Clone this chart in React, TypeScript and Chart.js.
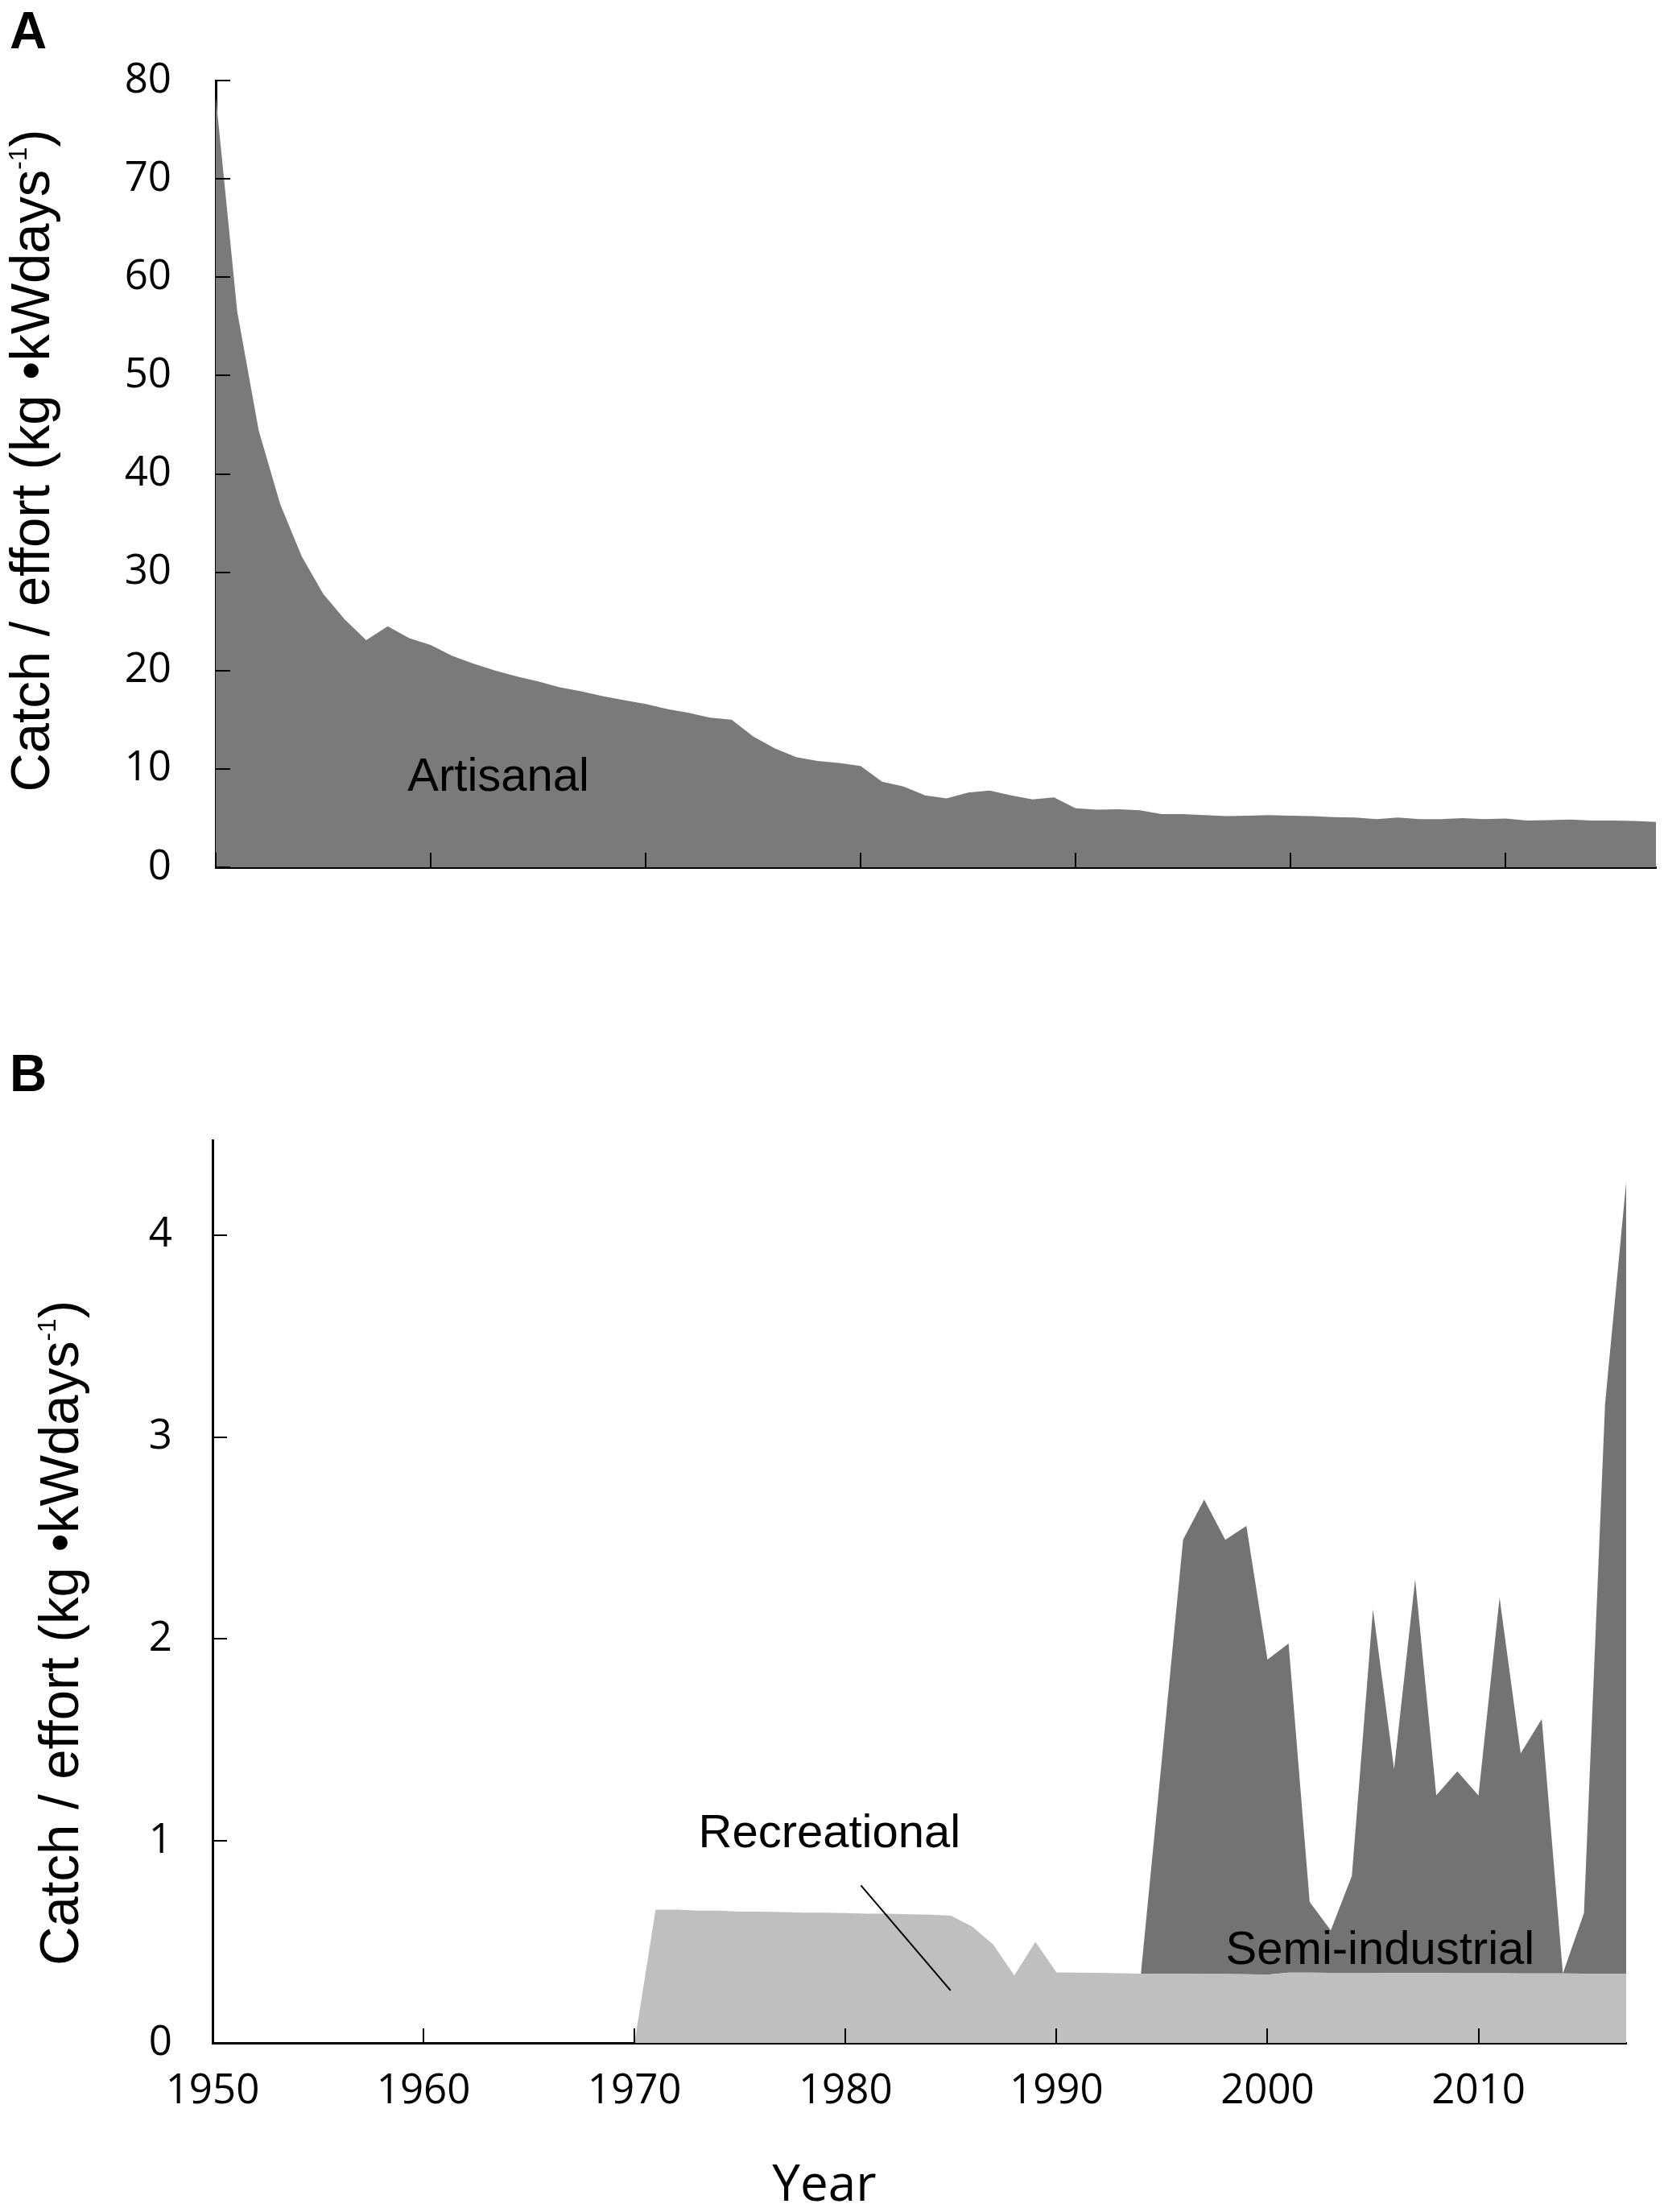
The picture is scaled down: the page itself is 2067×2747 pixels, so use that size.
import React, { useEffect, useRef } from 'react';
import { Chart, registerables } from 'chart.js';

Chart.register(...registerables);

// Years on both horizontal axes
const years = Array.from({ length: 68 }, (_, i) => 1950 + i);
const yearTicks = [1950, 1960, 1970, 1980, 1990, 2000, 2010];

// Panel A: artisanal catch / effort, 1950-2017
const artisanal = [
	78.4, 56.5, 44.4, 36.9, 31.6, 27.8, 25.2, 23.1, 24.5, 23.3,
	22.6, 21.5, 20.7, 20.0, 19.4, 18.9, 18.3, 17.9, 17.4, 17.0,
	16.6, 16.1, 15.7, 15.2, 15.0, 13.3, 12.1, 11.2, 10.8, 10.6,
	10.3, 8.7, 8.2, 7.3, 7.0, 7.6, 7.8, 7.3, 6.9, 7.1,
	6.0, 5.85, 5.9, 5.8, 5.4, 5.4, 5.3, 5.2, 5.25, 5.3,
	5.25, 5.2, 5.1, 5.05, 4.9, 5.05, 4.9, 4.9, 5.0, 4.9,
	4.95, 4.75, 4.8, 4.85, 4.75, 4.75, 4.7, 4.6
];
const ticksA = [0, 10, 20, 30, 40, 50, 60, 70, 80];

// Panel B: recreational 1970-2017, semi-industrial 1994-2017 (stacked on top)
const recreationalYears = years.slice(20);
const recreational = [
	0,
	0.66, 0.66, 0.655, 0.655, 0.65, 0.65, 0.648, 0.645, 0.645, 0.643, 0.64, 0.64, 0.637, 0.635, 0.63,
	0.576, 0.487, 0.334, 0.5, 0.349,
	0.348, 0.347, 0.345, 0.343,
	0.342, 0.342, 0.341, 0.341, 0.34, 0.338,
	0.348, 0.348, 0.347, 0.347, 0.347, 0.346, 0.346, 0.346, 0.345, 0.345, 0.345, 0.344, 0.344, 0.344,
	0.343, 0.343, 0.343
];
const semiYears = years.slice(44);
const semiIndustrial = [
	0, 1.07, 2.15, 2.35, 2.15, 2.22, 1.56, 1.63, 0.35, 0.21,
	0.48, 1.8, 1.01, 1.95, 0.88, 1.0, 0.88, 1.86, 1.09, 1.26,
	0, 0.3, 2.82, 3.92
];
const ticksB = [0, 1, 2, 3, 4];

const ARTISANAL_FILL = '#7a7a7b';
const SEMI_FILL = '#737373';
const RECREATIONAL_FILL = '#bfbfbf';

const LABEL_FONT = '58px "Liberation Sans", Arial, sans-serif';
const TICK_FONT = { family: '"Open Sans", "Noto Sans", sans-serif', size: 51 };
const TICK_LEN = 18;

// ticks in this figure point into the plot area
const inwardTicks = {
	id: 'inwardTicks',
	afterDraw(chart: any) {
		const { ctx, chartArea, scales } = chart;
		ctx.save();
		ctx.strokeStyle = '#000';
		ctx.lineWidth = 2;
		ctx.beginPath();
		scales.x.ticks.forEach((t: any) => {
			const px = Math.round(scales.x.getPixelForValue(t.value));
			ctx.moveTo(px, chartArea.bottom);
			ctx.lineTo(px, chartArea.bottom - TICK_LEN);
		});
		scales.y.ticks.forEach((t: any) => {
			const py = Math.round(scales.y.getPixelForValue(t.value));
			ctx.moveTo(chartArea.left, py);
			ctx.lineTo(chartArea.left + TICK_LEN, py);
		});
		ctx.stroke();
		ctx.restore();
	}
};

function drawYTitle(ctx: CanvasRenderingContext2D, baseX: number, centerY: number, length: number) {
	const main = 'Catch / effort (kg \u2022kWdays';
	const sup = '-1';
	const close = ')';
	const big = '68px "Liberation Sans", Arial, sans-serif';
	const small = '32px "Liberation Sans", Arial, sans-serif';
	ctx.font = big;
	const w1 = ctx.measureText(main).width;
	const w3 = ctx.measureText(close).width;
	ctx.font = small;
	const w2 = ctx.measureText(sup).width;
	const total = w1 + w2 + w3;
	ctx.save();
	ctx.translate(baseX, centerY);
	ctx.rotate(-Math.PI / 2);
	ctx.scale(length / total, 1);
	ctx.textAlign = 'left';
	ctx.textBaseline = 'alphabetic';
	let x = -total / 2;
	ctx.font = big;
	ctx.fillText(main, x, 0);
	x += w1;
	ctx.font = small;
	ctx.fillText(sup, x, -28);
	x += w2;
	ctx.font = big;
	ctx.fillText(close, x, 0);
	ctx.restore();
}

// labels placed in data space, plus panel letter, axis titles
const panelText = {
	id: 'panelText',
	afterDraw(chart: any, _args: any, opts: any) {
		const { ctx, scales } = chart;
		ctx.save();
		ctx.fillStyle = '#000';
		ctx.textBaseline = 'alphabetic';
		(opts.notes || []).forEach((n: any) => {
			ctx.font = LABEL_FONT;
			ctx.textAlign = 'center';
			ctx.fillText(n.text, scales.x.getPixelForValue(n.x), scales.y.getPixelForValue(n.y));
		});
		(opts.fixed || []).forEach((n: any) => {
			ctx.font = n.font;
			ctx.textAlign = n.align || 'left';
			ctx.fillText(n.text, n.px, n.py);
		});
		if (opts.leader) {
			const [a, b] = opts.leader;
			ctx.strokeStyle = '#000';
			ctx.lineWidth = 2;
			ctx.beginPath();
			ctx.moveTo(scales.x.getPixelForValue(a.x), scales.y.getPixelForValue(a.y));
			ctx.lineTo(scales.x.getPixelForValue(b.x), scales.y.getPixelForValue(b.y));
			ctx.stroke();
		}
		if (opts.yTitle) {
			drawYTitle(ctx, opts.yTitle.x, opts.yTitle.y, opts.yTitle.length);
		}
		ctx.restore();
	}
};

const axisBorder = { display: true, color: '#000', width: 3 };
const noGrid = { display: false, drawTicks: false };

function setTicks(values: number[]) {
	return (scale: any) => {
		scale.ticks = values.map((v) => ({ value: v }));
	};
}

function buildArtisanal(canvas: HTMLCanvasElement) {
	return new Chart(canvas, {
		type: 'line',
		data: {
			datasets: [
				{
					label: 'Artisanal',
					data: years.map((x, i) => ({ x, y: artisanal[i] })),
					backgroundColor: ARTISANAL_FILL,
					borderWidth: 0,
					pointRadius: 0,
					tension: 0,
					fill: 'origin'
				}
			]
		},
		options: {
			responsive: false,
			animation: false,
			devicePixelRatio: 1,
			layout: { padding: { left: 0, right: 10, top: 100, bottom: 0 } },
			scales: {
				x: {
					type: 'linear',
					min: 1950,
					max: 2017,
					z: 1,
					afterBuildTicks: setTicks(yearTicks),
					afterFit: (s: any) => {
						s.height = 87;
					},
					ticks: { display: false },
					grid: noGrid,
					border: axisBorder
				},
				y: {
					type: 'linear',
					min: 0,
					max: 80,
					z: 1,
					afterBuildTicks: setTicks(ticksA),
					afterFit: (s: any) => {
						s.width = 268;
					},
					ticks: { padding: 55, color: '#000', font: TICK_FONT },
					grid: noGrid,
					border: axisBorder
				}
			},
			plugins: {
				legend: { display: false },
				tooltip: { enabled: false },
				panelText: {
					notes: [{ text: 'Artisanal', x: 1963.15, y: 7.8 }],
					fixed: [{ text: 'A', px: 12, py: 60, font: 'bold 64px "Liberation Sans", Arial, sans-serif' }],
					yTitle: { x: 61, y: 572, length: 823 }
				}
			}
		} as any,
		plugins: [inwardTicks, panelText]
	});
}

function buildFleets(canvas: HTMLCanvasElement) {
	return new Chart(canvas, {
		type: 'line',
		data: {
			datasets: [
				{
					label: 'Recreational',
					data: recreationalYears.map((x, i) => ({ x, y: recreational[i] })),
					backgroundColor: RECREATIONAL_FILL,
					borderWidth: 0,
					pointRadius: 0,
					tension: 0,
					fill: 'origin'
				},
				{
					label: 'Semi-industrial',
					data: semiYears.map((x, i) => ({ x, y: semiIndustrial[i] })),
					backgroundColor: SEMI_FILL,
					borderWidth: 0,
					pointRadius: 0,
					tension: 0,
					fill: '-1'
				}
			]
		},
		options: {
			responsive: false,
			animation: false,
			devicePixelRatio: 1,
			layout: { padding: { left: 0, right: 47, top: 266, bottom: 0 } },
			scales: {
				x: {
					type: 'linear',
					min: 1950,
					max: 2017,
					z: 1,
					afterBuildTicks: setTicks(yearTicks),
					afterFit: (s: any) => {
						s.height = 210;
					},
					ticks: {
						padding: 30,
						color: '#000',
						font: TICK_FONT,
						maxRotation: 0,
						callback: (v: any) => String(v)
					},
					grid: noGrid,
					border: axisBorder
				},
				y: {
					type: 'linear',
					min: 0,
					max: 4.47,
					stacked: true,
					z: 1,
					afterBuildTicks: setTicks(ticksB),
					afterFit: (s: any) => {
						s.width = 264;
					},
					ticks: { padding: 50, color: '#000', font: TICK_FONT },
					grid: noGrid,
					border: axisBorder
				}
			},
			plugins: {
				legend: { display: false },
				tooltip: { enabled: false },
				panelText: {
					notes: [
						{ text: 'Recreational', x: 1979.24, y: 0.97 },
						{ text: 'Semi-industrial', x: 2005.34, y: 0.39 }
					],
					leader: [
						{ x: 1980.73, y: 0.78 },
						{ x: 1984.98, y: 0.26 }
					],
					fixed: [
						{ text: 'B', px: 12, py: 205, font: 'bold 64px "Liberation Sans", Arial, sans-serif' },
						{ text: 'Year', px: 1024, py: 1583, align: 'center', font: '62px "Open Sans", "Noto Sans", sans-serif' }
					],
					yTitle: { x: 97, y: 878, length: 826 }
				}
			}
		} as any,
		plugins: [inwardTicks, panelText]
	});
}

function Panel({ top, height, build }: { top: number; height: number; build: (c: HTMLCanvasElement) => Chart }) {
	const chartRef = useRef<HTMLCanvasElement>(null);
	const chartInstance = useRef<Chart | null>(null);

	useEffect(() => {
		if (!chartRef.current) return;
		chartInstance.current = build(chartRef.current);
		return () => {
			if (chartInstance.current) {
				chartInstance.current.destroy();
				chartInstance.current = null;
			}
		};
	}, [build]);

	return (
		<canvas
			ref={chartRef}
			width={2067}
			height={height}
			style={{ position: 'absolute', left: 0, top, width: 2067, height }}
		></canvas>
	);
}

export default function App() {
	return (
		<div style={{ position: 'absolute', left: 0, top: 0, width: 2067, height: 2747, background: '#fff', overflow: 'hidden' }}>
			<Panel top={0} height={1164} build={buildArtisanal} />
			<Panel top={1150} height={1597} build={buildFleets} />
		</div>
	);
}
